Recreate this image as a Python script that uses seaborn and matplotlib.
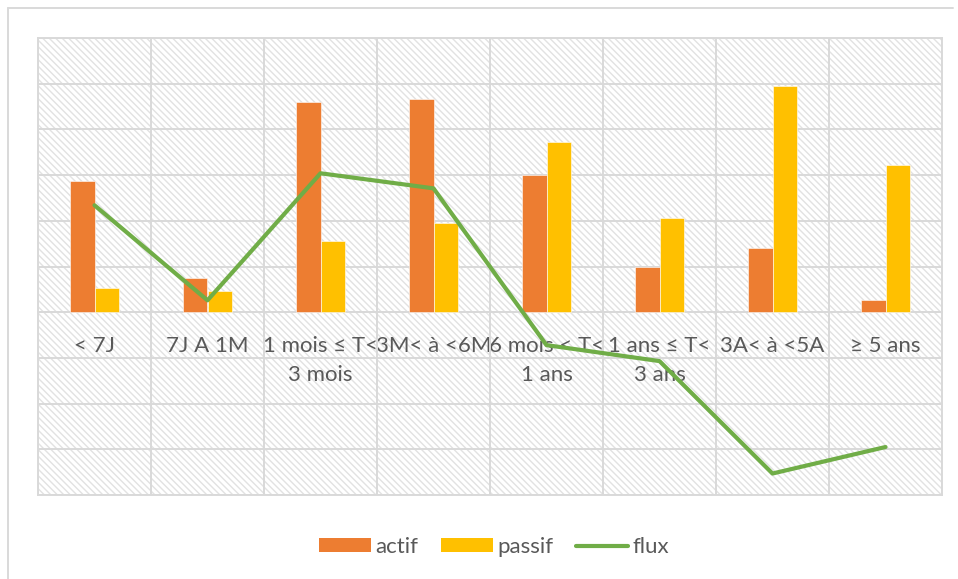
import matplotlib
matplotlib.use("Agg")
import matplotlib.pyplot as plt
from matplotlib.lines import Line2D
from matplotlib.patches import Patch
from matplotlib.collections import LineCollection
from matplotlib.transforms import IdentityTransform
import numpy as np
import pandas as pd
import seaborn as sns

# Maturity buckets and amounts per bucket
categories = ["< 7J", "7J A 1M", "1 mois ≤ T<\n3 mois", "3M< à <6M",
              "6 mois < T<\n1 ans", "1 ans ≤ T<\n3 ans", "3A< à <5A", "≥ 5 ans"]
actif = [2.87, 0.75, 4.60, 4.66, 3.00, 1.00, 1.40, 0.26]
passif = [0.54, 0.47, 1.55, 1.95, 3.72, 2.07, 4.95, 3.22]
flux = [2.34, 0.26, 3.04, 2.71, -0.72, -1.07, -3.53, -2.95]

series_names = ["actif", "passif", "flux"]
colors = {"actif": "#ED7D31", "passif": "#FFC000", "flux": "#70AD47"}
grid_color = "#D9D9D9"
text_color = "#595959"

sns.set_theme(style="white")
plt.rcParams["font.family"] = ["Lato", "DejaVu Sans"]

bars = pd.DataFrame({
    "categorie": categories * 2,
    "valeur": actif + passif,
    "serie": ["actif"] * len(categories) + ["passif"] * len(categories),
})
line = pd.DataFrame({"categorie": categories, "valeur": flux})

fig = plt.figure(figsize=(9.58, 5.79), dpi=100)
ax = fig.add_axes([38 / 958, 1 - 495 / 579, (942 - 38) / 958, (495 - 38) / 579])
ax.patch.set_facecolor("white")

sns.barplot(data=bars, x="categorie", y="valeur", hue="serie",
            palette=[colors["actif"], colors["passif"]], saturation=1,
            width=0.44, order=categories, hue_order=["actif", "passif"],
            edgecolor="white", linewidth=0.4, legend=False, ax=ax, zorder=3)
sns.lineplot(data=line, x="categorie", y="valeur", color=colors["flux"],
             linewidth=3, sort=False, ax=ax, zorder=4,
             solid_capstyle="round", solid_joinstyle="round")

ax.set_xlim(-0.5, len(categories) - 0.5)
ax.set_ylim(-4, 6)
ax.set_yticks(np.arange(-4, 7, 1))
ax.set_yticklabels([])
ax.set_xticks(np.arange(len(categories)))
ax.set_xticklabels(categories)
ax.set_xticks(np.arange(len(categories) + 1) - 0.5, minor=True)
ax.set_xlabel("")
ax.set_ylabel("")

ax.grid(True, axis="y", which="major", color=grid_color, linewidth=1.4)
ax.grid(True, axis="x", which="minor", color=grid_color, linewidth=1.4)
ax.grid(False, axis="x", which="major")
ax.set_axisbelow(True)

for side in ["left", "right", "top"]:
    ax.spines[side].set_color(grid_color)
    ax.spines[side].set_linewidth(1.4)
ax.spines["bottom"].set_position(("data", 0))
ax.spines["bottom"].set_color(grid_color)
ax.spines["bottom"].set_linewidth(1.4)
ax.axhline(-4, color=grid_color, linewidth=1.4, clip_on=False, zorder=1)

ax.tick_params(axis="both", which="both", length=0)
ax.tick_params(axis="x", which="major", pad=17, labelsize=16,
               labelcolor=text_color)
for lbl in ax.get_xticklabels():
    lbl.set_linespacing(1.6)

# diagonal hatching of the plot area background
bb = ax.get_window_extent()
step = 6.5
offsets = np.arange(bb.x0 + bb.y0, bb.x1 + bb.y1 + step, step)
segs = [[(c - bb.y1, bb.y1), (c - bb.y0, bb.y0)] for c in offsets]
hatch = LineCollection(segs, colors="#E2E2E2", linewidths=1.0,
                       transform=IdentityTransform(), zorder=0.2)
hatch.set_clip_path(ax.patch)
ax.add_collection(hatch, autolim=False)

handles = [
    Patch(facecolor=colors["actif"], edgecolor="none"),
    Patch(facecolor=colors["passif"], edgecolor="none"),
    Line2D([0], [0], color=colors["flux"], linewidth=3, solid_capstyle="round"),
]
leg = fig.legend(handles, series_names, loc="center", ncol=3,
                 bbox_to_anchor=(494 / 958, 1 - 547 / 579), frameon=False,
                 fontsize=16, handlelength=2.35, handleheight=0.6,
                 handletextpad=0.2, columnspacing=1.0)
for t in leg.get_texts():
    t.set_color(text_color)

# chart frame
fig.add_artist(Line2D([8 / 958, 953 / 958], [1 - 8 / 579, 1 - 8 / 579],
                      color=grid_color, linewidth=1.4, transform=fig.transFigure))
fig.add_artist(Line2D([8 / 958, 8 / 958], [1 - 8 / 579, 0],
                      color=grid_color, linewidth=1.4, transform=fig.transFigure))

fig.savefig("out.png", dpi=100, facecolor="white")
